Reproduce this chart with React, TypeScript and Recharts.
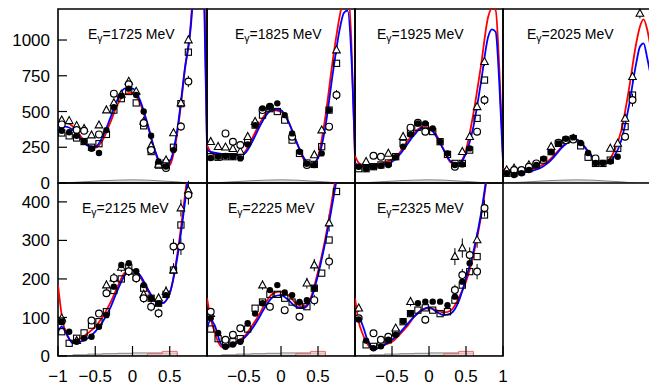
import React from 'react';
import { ComposedChart, Line, Scatter, Area, XAxis, YAxis, ReferenceArea, ErrorBar } from 'recharts';

// cos(theta) grid for the model curves and for the data bins
const CURVE_C = [-1, -0.95, -0.9, -0.8, -0.7, -0.6, -0.5, -0.4, -0.3, -0.2, -0.1, 0, 0.1, 0.2, 0.3, 0.4, 0.5, 0.6, 0.7, 0.8, 0.85, 0.9, 0.95, 1];
const MARK_C = [-0.95, -0.85, -0.75, -0.65, -0.55, -0.45, -0.35, -0.25, -0.15, -0.05, 0.05, 0.15, 0.25, 0.35, 0.45, 0.55, 0.65, 0.75, 0.85];
const HIST_C = [-1, -0.8, -0.6, -0.4, -0.2, 0, 0.2, 0.4, 0.6, 0.8, 1];

const ENERGIES = [1725, 1825, 1925, 2025, 2125, 2225, 2325];

// model curves (red / blue)
const red1725 = [417, 420, 420, 395, 330, 262, 245, 300, 420, 550, 622, 630, 560, 405, 225, 105, 125, 345, 780, 1250, 1900, 2300, 1800, 280];
const blue1725 = [382, 390, 394, 370, 312, 261, 254, 324, 452, 585, 662, 662, 580, 417, 231, 121, 149, 370, 790, 1210, 1900, 2300, 1600, 250];
const red1825 = [265, 215, 200, 196, 196, 196, 212, 300, 405, 487, 510, 498, 429, 300, 172, 114, 184, 464, 860, 1186, 1300, 1350, 1000, 180];
const blue1825 = [231, 218, 212, 203, 200, 196, 203, 277, 382, 475, 515, 510, 429, 300, 184, 126, 172, 394, 767, 1093, 1190, 1205, 900, 200];
const red1925 = [190, 140, 126, 121, 130, 142, 165, 210, 285, 350, 389, 389, 335, 231, 142, 137, 231, 487, 813, 1163, 1221, 1209, 800, 180];
const blue1925 = [140, 120, 114, 114, 121, 130, 149, 196, 266, 336, 382, 382, 324, 231, 149, 137, 207, 394, 697, 1023, 1074, 1058, 700, 150];
const red2025 = [100, 95, 91, 79, 86, 98, 119, 149, 200, 254, 294, 301, 254, 189, 144, 149, 219, 370, 650, 976, 1093, 1144, 1070, 930];
const blue2025 = [91, 84, 79, 68, 75, 86, 103, 137, 189, 249, 289, 301, 254, 184, 137, 137, 184, 301, 534, 837, 953, 977, 871, 741];
const red2125 = [184, 106, 63, 37, 46, 59, 76, 102, 137, 180, 217, 223, 206, 171, 143, 137, 163, 262, 410, 580, 700, 820, 920, 1000];
const blue2125 = [63, 76, 63, 33, 37, 46, 63, 89, 124, 171, 210, 223, 210, 176, 145, 137, 163, 254, 392, 560, 680, 800, 900, 1000];
const red2225 = [150, 98, 63, 24, 24, 37, 50, 76, 106, 141, 163, 167, 158, 137, 128, 150, 219, 306, 418, 540, 620, 720, 820, 920];
const blue2225 = [72, 94, 81, 29, 27, 33, 46, 68, 98, 132, 154, 158, 145, 128, 124, 145, 210, 297, 401, 520, 600, 700, 800, 900];
const red2325 = [150, 89, 59, 24, 20, 29, 37, 55, 76, 102, 119, 124, 119, 113, 119, 150, 193, 262, 358, 490, 570, 670, 770, 870];
const blue2325 = [89, 102, 81, 29, 20, 29, 42, 59, 81, 102, 119, 126, 115, 106, 111, 141, 202, 271, 366, 500, 580, 680, 780, 880];

// data points: filled circles, open circles, triangles, squares
const filled1725 = [365, 355, 330, 290, 240, 210, 370, 530, 610, 660, 615, 500, 330, 150, 115, 230, null, null, null];
const open1725 = [410, null, 370, 365, null, 340, null, 625, null, 690, null, 420, 230, null, 105, null, 395, 710, null];
const tri1725 = [440, 435, 400, 380, 335, 405, 510, 560, 620, 710, 640, 430, 260, 130, 160, 350, 560, 1000, null];
const sq1725 = [350, 330, 315, 290, 250, 275, 340, 510, 590, 640, 560, 400, 220, 125, 140, 250, 555, 915, null];

const filled1825 = [175, 184, 189, 184, 172, 270, 405, 522, 533, 557, 475, 347, 219, 135, 126, 207, 510, null, null];
const open1825 = [null, null, 347, 289, 266, null, null, 510, 533, null, null, 324, null, 126, null, null, 394, 615, null];
const tri1825 = [289, 254, 250, 240, 220, 324, 429, null, null, null, null, null, null, null, 196, 370, null, 930, null];
const sq1825 = [184, 180, 184, 184, 190, 289, 405, 475, 520, 500, 440, 300, 207, 140, 130, 254, 510, 837, null];

const filled1925 = [114, 100, 114, 121, 126, 180, 254, 340, 417, 417, 382, 289, 207, 126, 130, 242, null, null, null];
const open1925 = [null, null, 191, 184, null, null, null, 387, 421, 359, null, null, null, 114, null, null, 359, 580, null];
const tri1925 = [null, 149, null, null, 207, null, 324, null, null, null, null, null, null, null, 219, 324, 533, 848, null];
const sq1925 = [100, 100, 114, 126, 140, 184, 277, 350, 390, 400, 360, 289, 200, 137, 137, 230, 452, 720, null];

const filled2025 = [68, 56, 68, 91, 126, 170, 219, 277, 310, 319, 280, 210, 140, 140, 150, 184, null, null, null];
const open2025 = [null, 91, 91, 114, 137, null, null, 282, 300, 305, null, null, 172, null, null, null, 324, 580, null];
const tri2025 = [91, 103, null, 126, null, null, 254, null, null, 310, null, null, null, null, 242, 277, 452, 743, 1186];
const sq2025 = [68, 68, 79, 100, 126, 160, 219, 277, 300, 310, 260, 180, 137, 137, 160, 242, 394, 615, null];

const filled2125 = [89, 63, 37, 46, 50, 76, 106, 180, 236, 241, 220, 184, 150, 137, 158, null, null, null, null];
const open2125 = [90, null, null, null, 92, 110, 163, 202, null, 220, 202, 150, 128, 111, null, 284, 284, 418, null];
const tri2125 = [98, null, 40, null, null, null, 184, 202, 230, 220, null, 160, null, 150, 167, 223, 384, 430, null];
const sq2125 = [63, 33, 46, 60, 80, 89, 115, 170, 200, 230, 205, 176, 150, 137, 160, 223, 340, null, null];

const filled2225 = [98, 60, 24, 30, 37, 85, 110, 137, 171, 184, 165, 158, 140, 145, 176, null, null, null, null];
const open2225 = [115, null, 42, 55, 72, null, null, null, 128, null, 119, null, 102, null, 145, null, 245, null, null];
const tri2225 = [110, null, null, null, null, null, null, 184, null, null, null, null, null, 189, 236, null, 345, null, null];
const sq2225 = [70, 45, 30, 37, 45, 70, 124, 140, 160, 160, 150, 140, 132, 128, 176, 215, 301, 427, null];

const filled2325 = [95, 40, 20, 25, 42, 55, 90, 111, 137, 141, 141, 141, 132, 154, 193, 241, null, null, null];
const open2325 = [98, null, 59, 42, 50, null, null, null, null, 94, null, null, null, 171, 210, 262, 219, 384, null];
const tri2325 = [124, null, null, null, null, 72, null, 141, null, null, null, null, null, 258, 280, null, 301, null, null];
const sq2325 = [null, 29, 25, 35, 42, 60, 89, 110, 119, 125, 119, 110, 115, 145, 184, 219, 258, 366, null];

// error bars (half widths) for open circles and triangles
const openErr1725 = [20, 0, 20, 20, 0, 20, 0, 25, 0, 30, 0, 25, 20, 0, 20, 0, 30, 40, 0];
const triErr1725 = [15, 15, 15, 15, 15, 15, 20, 20, 20, 25, 20, 20, 15, 15, 15, 20, 25, 30, 0];
const openErr1825 = [0, 0, 25, 20, 20, 0, 0, 20, 20, 0, 0, 20, 0, 15, 0, 0, 25, 35, 0];
const triErr1825 = [15, 15, 15, 15, 15, 15, 20, 0, 0, 0, 0, 0, 0, 0, 15, 20, 0, 30, 0];
const openErr1925 = [0, 0, 15, 15, 0, 0, 0, 20, 20, 20, 0, 0, 0, 15, 0, 0, 25, 35, 0];
const triErr1925 = [0, 12, 0, 0, 12, 0, 15, 0, 0, 0, 0, 0, 0, 0, 15, 20, 25, 30, 0];
const openErr2025 = [0, 12, 12, 12, 12, 0, 0, 15, 15, 15, 0, 0, 15, 0, 0, 0, 25, 45, 0];
const triErr2025 = [12, 12, 0, 12, 0, 0, 15, 0, 0, 15, 0, 0, 0, 0, 15, 20, 25, 30, 35];
const openErr2125 = [10, 0, 0, 0, 8, 8, 10, 12, 0, 12, 12, 12, 12, 12, 0, 20, 22, 25, 0];
const triErr2125 = [8, 0, 8, 0, 0, 0, 12, 12, 12, 12, 0, 12, 0, 12, 14, 18, 22, 25, 0];
const openErr2225 = [8, 0, 6, 6, 8, 0, 0, 0, 10, 0, 10, 0, 10, 0, 14, 0, 20, 0, 0];
const triErr2225 = [8, 0, 0, 0, 0, 0, 0, 12, 0, 0, 0, 0, 0, 14, 16, 0, 22, 0, 0];
const openErr2325 = [8, 0, 6, 6, 6, 0, 0, 0, 0, 10, 0, 0, 0, 14, 16, 20, 20, 22, 0];
const triErr2325 = [10, 0, 0, 0, 0, 8, 0, 12, 0, 0, 0, 0, 0, 22, 25, 0, 20, 0, 0];

// small histograms along the bottom of each panel
const histTop = [0, 4, 10, 16, 20, 22, 20, 14, 8, 0, 0];
const histBottom = [0, 3, 5, 6, 7, 8, 8, 7, 0, 0, 0];
const pinkBottom = [0, 0, 0, 0, 0, 0, 6, 12, 0, 0, 0];

const TOP_MAJOR = [0, 250, 500, 750, 1000];
const TOP_MINOR = [0, 50, 100, 150, 200, 250, 300, 350, 400, 450, 500, 550, 600, 650, 700, 750, 800, 850, 900, 950, 1000, 1050, 1100, 1150, 1200];
const BOT_MAJOR = [0, 100, 200, 300, 400];
const BOT_MINOR = [0, 20, 40, 60, 80, 100, 120, 140, 160, 180, 200, 220, 240, 260, 280, 300, 320, 340, 360, 380, 400, 420, 440];

const FONT = '"Liberation Sans", Arial, Helvetica, sans-serif';

const curveData = (r: number[], b: number[]) => CURVE_C.map((c, i) => ({ c, red: r[i], blue: b[i] }));
const markData = (vals: (number | null)[], err?: number[]) =>
  MARK_C.map((c, i) => ({ c, v: vals[i], e: err ? err[i] : 0 })).filter((d) => d.v !== null);
const histData = (vals: number[]) => HIST_C.map((c, i) => ({ c, h: vals[i] }));

const FilledDot = (p: any) => <circle cx={p.cx} cy={p.cy} r={3.2} fill="#000" />;
const OpenDot = (p: any) => <circle cx={p.cx} cy={p.cy} r={3.4} fill="#fff" stroke="#000" strokeWidth={1.2} />;
const SquareDot = (p: any) => (
  <rect x={p.cx - 3.1} y={p.cy - 3.1} width={6.2} height={6.2} fill="none" stroke="#000" strokeWidth={1.1} />
);
const TriDot = (p: any) => (
  <polygon
    points={`${p.cx},${p.cy - 4.2} ${p.cx - 3.8},${p.cy + 2.8} ${p.cx + 3.8},${p.cy + 2.8}`}
    fill="#fff"
    stroke="#000"
    strokeWidth={1.1}
  />
);

const fmt = (v: number) => String(v).replace('-', '\u2212');

interface PanelProps {
  left: number;
  top: number;
  width: number;
  height: number;
  yMax: number;
  majors: number[];
  minors: number[];
  yLabels: boolean;
  xTicks: number[] | null;
  energy: number;
  labelDx: number;
  red: number[];
  blue: number[];
  filled: (number | null)[];
  open: (number | null)[];
  tri: (number | null)[];
  sq: (number | null)[];
  openErr: number[];
  triErr: number[];
  hist: number[];
  pink?: number[];
}

const PAD = 2;

const Panel: React.FC<PanelProps> = (p) => {
  const yw = p.yLabels ? 58 : 0;
  const xh = p.xTicks ? 33 : 0;
  const curves = curveData(p.red, p.blue);
  return (
    <>
      <div style={{ position: 'absolute', left: p.left - PAD - yw, top: p.top - PAD }}>
        <ComposedChart
          width={p.width + 2 * PAD + yw}
          height={p.height + 2 * PAD + xh}
          margin={{ top: PAD, right: PAD, bottom: PAD, left: PAD }}
        >
          <XAxis
            dataKey="c"
            type="number"
            domain={[-1, 1]}
            allowDataOverflow
            ticks={p.xTicks || [-0.5, 0, 0.5]}
            interval={0}
            tickSize={-10}
            tickMargin={24}
            height={xh}
            axisLine={false}
            tickLine={{ stroke: '#000', strokeWidth: 1.2 }}
            tick={p.xTicks ? { fontSize: 17, fill: '#000', fontFamily: FONT } : false}
            tickFormatter={fmt}
          />
          <YAxis
            yAxisId="L"
            dataKey="v"
            type="number"
            domain={[0, p.yMax]}
            allowDataOverflow
            ticks={p.majors}
            interval={0}
            width={yw}
            tickSize={-9}
            tickMargin={17}
            axisLine={false}
            tickLine={{ stroke: '#000', strokeWidth: 1.2 }}
            tick={p.yLabels ? { fontSize: 17, fill: '#000', fontFamily: FONT } : false}
          />
          <YAxis
            yAxisId="Lm"
            type="number"
            domain={[0, p.yMax]}
            allowDataOverflow
            ticks={p.minors}
            interval={0}
            width={0}
            tickSize={-4}
            axisLine={false}
            tickLine={{ stroke: '#000', strokeWidth: 1 }}
            tick={false}
          />
          <YAxis
            yAxisId="R"
            orientation="right"
            type="number"
            domain={[0, p.yMax]}
            allowDataOverflow
            ticks={p.majors}
            interval={0}
            width={0}
            tickSize={-9}
            axisLine={false}
            tickLine={{ stroke: '#000', strokeWidth: 1.2 }}
            tick={false}
          />
          <YAxis
            yAxisId="Rm"
            orientation="right"
            type="number"
            domain={[0, p.yMax]}
            allowDataOverflow
            ticks={p.minors}
            interval={0}
            width={0}
            tickSize={-4}
            axisLine={false}
            tickLine={{ stroke: '#000', strokeWidth: 1 }}
            tick={false}
          />
          <Area
            yAxisId="L"
            data={histData(p.hist)}
            dataKey="h"
            type={p.pink ? 'stepAfter' : 'monotone'}
            stroke="#666"
            strokeWidth={0.8}
            fill="#d8d8d8"
            fillOpacity={0.8}
            isAnimationActive={false}
          />
          {p.pink && (
            <Area
              yAxisId="L"
              data={histData(p.pink)}
              dataKey="h"
              type="stepAfter"
              stroke="#e05050"
              strokeWidth={0.8}
              fill="#f6c8c8"
              fillOpacity={0.8}
              isAnimationActive={false}
            />
          )}
          <Scatter yAxisId="L" data={markData(p.sq)} shape={SquareDot} isAnimationActive={false} />
          <Scatter yAxisId="L" data={markData(p.tri, p.triErr)} shape={TriDot} isAnimationActive={false}>
            <ErrorBar dataKey="e" direction="y" width={0} stroke="#000" strokeWidth={1} />
          </Scatter>
          <Scatter yAxisId="L" data={markData(p.open, p.openErr)} shape={OpenDot} isAnimationActive={false}>
            <ErrorBar dataKey="e" direction="y" width={0} stroke="#000" strokeWidth={1} />
          </Scatter>
          <Scatter yAxisId="L" data={markData(p.filled)} shape={FilledDot} isAnimationActive={false} />
          <Line yAxisId="L" data={curves} dataKey="red" type="monotone" stroke="#ff0000" strokeWidth={1.8} dot={false} isAnimationActive={false} />
          <Line yAxisId="L" data={curves} dataKey="blue" type="monotone" stroke="#0000ff" strokeWidth={1.8} dot={false} isAnimationActive={false} />
          <ReferenceArea yAxisId="L" x1={-1} x2={1} y1={0} y2={p.yMax} fill="none" stroke="#000" strokeWidth={1.6} />
        </ComposedChart>
      </div>
      <div
        style={{
          position: 'absolute',
          left: p.left + p.labelDx,
          top: p.top + 17,
          fontFamily: FONT,
          fontSize: 14,
          color: '#000',
          whiteSpace: 'nowrap',
        }}
      >
        E<span style={{ fontSize: 10.5, position: 'relative', top: 3 }}>γ</span>={p.energy} MeV
      </div>
    </>
  );
};

const LEFTS = [58, 207, 355, 503];
const WIDTHS = [149, 148, 148, 148];

export default function App() {
  const top = { top: 9, height: 174, yMax: 1217, majors: TOP_MAJOR, minors: TOP_MINOR, hist: histTop };
  const bot = { top: 183, height: 173, yMax: 449, majors: BOT_MAJOR, minors: BOT_MINOR, hist: histBottom, pink: pinkBottom };
  return (
    <div style={{ position: 'absolute', left: 0, top: 0, width: 649, height: 389, overflow: 'hidden', background: '#fff' }}>
      <style>{'svg { overflow: visible; }'}</style>
      <Panel {...top} left={LEFTS[0]} width={WIDTHS[0]} yLabels xTicks={null} energy={ENERGIES[0]} labelDx={30}
        red={red1725} blue={blue1725} filled={filled1725} open={open1725} tri={tri1725} sq={sq1725} openErr={openErr1725} triErr={triErr1725} />
      <Panel {...top} left={LEFTS[1]} width={WIDTHS[1]} yLabels={false} xTicks={null} energy={ENERGIES[1]} labelDx={28}
        red={red1825} blue={blue1825} filled={filled1825} open={open1825} tri={tri1825} sq={sq1825} openErr={openErr1825} triErr={triErr1825} />
      <Panel {...top} left={LEFTS[2]} width={WIDTHS[2]} yLabels={false} xTicks={null} energy={ENERGIES[2]} labelDx={22}
        red={red1925} blue={blue1925} filled={filled1925} open={open1925} tri={tri1925} sq={sq1925} openErr={openErr1925} triErr={triErr1925} />
      <Panel {...top} left={LEFTS[3]} width={WIDTHS[3]} yLabels={false} xTicks={null} energy={ENERGIES[3]} labelDx={24}
        red={red2025} blue={blue2025} filled={filled2025} open={open2025} tri={tri2025} sq={sq2025} openErr={openErr2025} triErr={triErr2025} />
      <Panel {...bot} left={LEFTS[0]} width={WIDTHS[0]} yLabels xTicks={[-1, -0.5, 0, 0.5]} energy={ENERGIES[4]} labelDx={24}
        red={red2125} blue={blue2125} filled={filled2125} open={open2125} tri={tri2125} sq={sq2125} openErr={openErr2125} triErr={triErr2125} />
      <Panel {...bot} left={LEFTS[1]} width={WIDTHS[1]} yLabels={false} xTicks={[-0.5, 0, 0.5]} energy={ENERGIES[5]} labelDx={21}
        red={red2225} blue={blue2225} filled={filled2225} open={open2225} tri={tri2225} sq={sq2225} openErr={openErr2225} triErr={triErr2225} />
      <Panel {...bot} left={LEFTS[2]} width={WIDTHS[2]} yLabels={false} xTicks={[-0.5, 0, 0.5, 1]} energy={ENERGIES[6]} labelDx={22}
        red={red2325} blue={blue2325} filled={filled2325} open={open2325} tri={tri2325} sq={sq2325} openErr={openErr2325} triErr={triErr2325} />
    </div>
  );
}
